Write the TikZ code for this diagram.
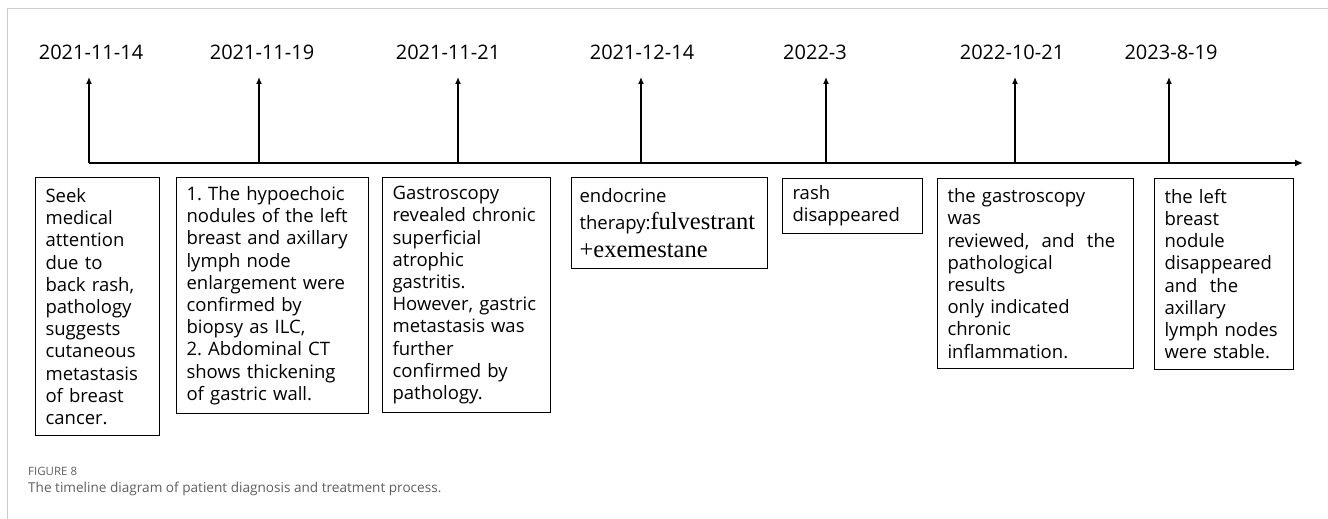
\documentclass[tikz,border=0pt]{standalone}
\usepackage{fontspec}
\setmainfont{Open Sans}
\newfontfamily\drugfont{Liberation Serif}
\usepackage{xcolor}
\usepackage{tikz}
\usetikzlibrary{arrows.meta}
\usetikzlibrary{calc}

\definecolor{framegray}{RGB}{205,205,205}
\definecolor{captiongray}{RGB}{95,95,95}
\newcommand{\drug}[1]{{\drugfont\fontsize{24.5}{28}\selectfont #1}}
\frenchspacing

\begin{document}
\begin{tikzpicture}[x=1pt,y=-1pt,
  datelabel/.style={font=\fontsize{20}{23}\selectfont,inner sep=0pt},
  eventbox/.style={draw,line width=1.1pt,anchor=north west,align=left,
    inner xsep=10pt,inner ysep=0pt,font=\fontsize{18.5}{22.2}\selectfont},
  timearrow/.style={line width=1.3pt,-{Latex[length=7pt,width=6pt]}}]
\useasboundingbox (0,0) rectangle (1328,519);
\draw[framegray,line width=1pt] (7,519) -- (7,9) -- (1328,9);
% time axis
\coordinate (start) at (89,163);
\coordinate (end) at (1303,163);
\draw[line width=1.6pt,-{Latex[length=8pt,width=7pt]}] (start) -- (end);
\foreach \i/\x/\lx/\dtext in {1/89/91/2021-11-14, 2/259/262/2021-11-19,
    3/458/448/2021-11-21, 4/641/642/2021-12-14, 5/826/815/2022-3,
    6/1015/1012/2022-10-21, 7/1169/1171/2023-8-19}
{
  \coordinate (t\i) at (\x,163);
  \coordinate (a\i) at (\x,77);
  \node[datelabel] (d\i) at (\lx,52) {\dtext};
  \draw[timearrow] (t\i) -- (a\i);
}
% events
\node[eventbox,text width=104pt,minimum height=258pt] (b1) at (35,177)
  {Seek\\medical\\attention\\due to\\back rash,\\pathology\\suggests\\cutaneous\\metastasis\\of breast\\cancer.};
\node[eventbox,text width=172pt,minimum height=236pt] (b2) at (176,177)
  {1. The hypoechoic\\nodules of the left\\breast and axillary\\lymph node\\enlargement were\\confirmed by\\biopsy as ILC,\\2. Abdominal CT\\shows thickening\\of gastric wall.};
\node[eventbox,text width=148pt,minimum height=235pt] (b3) at (382,177)
  {Gastroscopy\\revealed chronic\\superficial\\atrophic\\gastritis.\\However, gastric\\metastasis was\\further\\confirmed by\\pathology.};
\node[eventbox,text width=180pt,inner xsep=8pt,minimum height=91pt,font=\fontsize{18.5}{27.5}\selectfont] (b4) at (571,177)
  {endocrine\\therapy:\drug{fulvestrant}\\\drug{+exemestane}};
\node[eventbox,text width=120pt,minimum height=55pt] (b5) at (782,178)
  {rash\\disappeared};
\node[eventbox,text width=176pt,minimum height=190pt] (b6) at (937,178)
  {the gastroscopy\\was\\reviewed,\ \ and\ \ the\\pathological\\results\\only indicated\\chronic\\inflammation.};
\node[eventbox,text width=119pt,minimum height=191pt] (b7) at (1154,178)
  {the left\\breast\\nodule\\disappeared\\and\ \ the\\axillary\\lymph nodes\\were stable.};
% caption
\node[anchor=west,inner sep=0pt,text=captiongray,font=\fontsize{11.5}{14}\selectfont] (figlabel) at (28,471) {FIGURE 8};
\node[anchor=west,inner sep=0pt,text=captiongray,font=\fontsize{13.6}{17}\selectfont] (caption) at (28,489)
  {The timeline diagram of patient diagnosis and treatment process.};
\end{tikzpicture}
\end{document}
